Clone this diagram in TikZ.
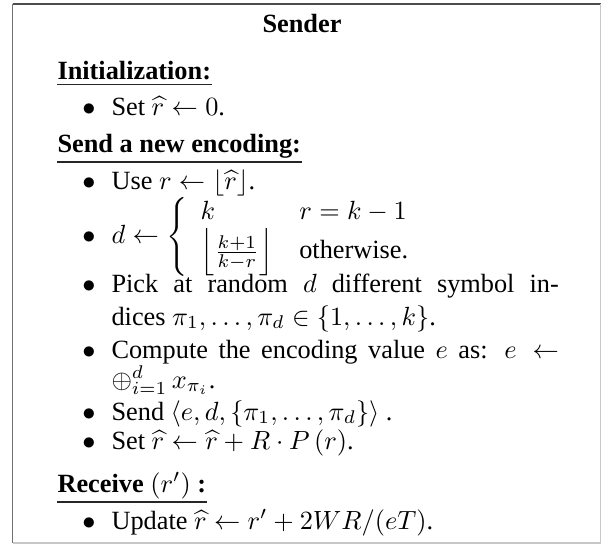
\documentclass[tikz,border=0pt]{standalone}
\usepackage{amsmath}
\usepackage[no-math]{fontspec}
\setmainfont{Liberation Serif}
\newlength{\linew}
\setlength{\linew}{170pt}
\begin{document}
\begin{tikzpicture}[x=0.38pt,y=-0.38pt,
  txt/.style={anchor=base west,inner sep=0pt,font=\fontsize{10}{12}\selectfont},
  bul/.style={anchor=base,inner sep=0pt},
  hd/.style={anchor=base west,inner sep=0pt,font=\fontsize{10}{12}\selectfont\bfseries},
  ul/.style={line width=0.6pt,color=black!85}]
\useasboundingbox (0,0) rectangle (602,544);
% frame
\draw[line width=0.75pt,color=black!55] (12.5,543) -- (12.5,4);
\draw[line width=0.75pt,color=black!70] (12.5,4) -- (601,4);
\draw[line width=0.75pt,color=black!22] (600.5,4) -- (600.5,543) -- (12.5,543);
% title
\node[anchor=base,inner sep=0pt,font=\fontsize{10}{12}\selectfont\bfseries] (title) at (302,33) {Sender};
% Initialization
\node[hd] (init) at (57,80) {Initialization:};
\draw[ul] ([yshift=-1.3pt]init.south west) -- ([yshift=-1.3pt]init.south east);
\node[bul] (b1) at (89,115) {$\bullet$};
\node[txt] (t1) at (111,115) {Set $\widehat{r} \leftarrow 0$.};
% Send a new encoding
\node[hd] (send) at (57,152) {Send a new encoding:};
\draw[ul] ([yshift=-1.3pt]send.south west) -- ([yshift=-1.3pt]send.south east);
\node[bul] (b2) at (89,189) {$\bullet$};
\node[txt] (t2) at (111,189) {Use $r \leftarrow \left\lfloor \widehat{r} \right\rfloor$.};
\node[bul] (b3) at (89,243) {$\bullet$};
\node[txt] (t3) at (111,243) {$d \leftarrow \left\{\begin{array}{ll} k & r = k-1\\ \Bigl\lfloor \frac{k+1}{k-r} \Bigr\rfloor & \text{otherwise.}\end{array}\right.$};
\node[bul] (b4) at (89,292) {$\bullet$};
\node[txt] (t4a) at (111,292) {\makebox[\linew][s]{Pick at random $d$ different symbol in-}};
\node[txt] (t4b) at (111,325) {dices $\pi_1,\ldots,\pi_d \in \{1,\ldots,k\}$.};
\node[bul] (b5) at (89,358) {$\bullet$};
\node[txt] (t5a) at (111,358) {\makebox[\linew][s]{Compute the encoding value $e$ as: $e \leftarrow$}};
\node[txt] (t5b) at (111,388) {$\mathop{\oplus}\nolimits_{i=1}^{d} x_{\pi_i}$.};
\node[bul] (b6) at (89,420) {$\bullet$};
\node[txt] (t6) at (111,420) {Send $\langle e, d, \{\pi_1,\ldots,\pi_d\}\rangle$ .};
\node[bul] (b7) at (89,449) {$\bullet$};
\node[txt] (t7) at (111,449) {Set $\widehat{r} \leftarrow \widehat{r} + R\cdot P\left(r\right)$.};
% Receive
\node[hd] (recv) at (57,492) {Receive $\left(r'\right)$ :};
\draw[ul] ([yshift=-1.0pt]recv.south west) -- ([yshift=-1.0pt]recv.south east);
\node[bul] (b8) at (89,529) {$\bullet$};
\node[txt] (t8) at (111,529) {Update $\widehat{r} \leftarrow r' + 2WR/(eT)$.};
\end{tikzpicture}
\end{document}
